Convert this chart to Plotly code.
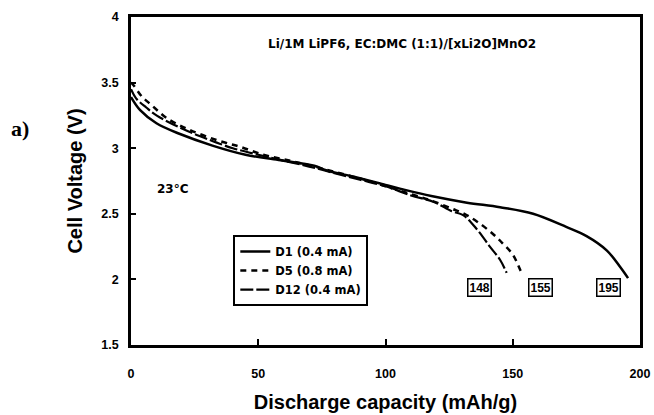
import plotly.graph_objects as go

# ---- data ----
d1_cap = [0, 3.6, 10, 19, 32, 45, 58, 72, 77, 88, 100, 106, 118, 132, 145, 158, 171, 179, 187, 192, 195.3]
d1_v   = [3.39, 3.29, 3.19, 3.11, 3.02, 2.95, 2.91, 2.866, 2.83, 2.78, 2.72, 2.69, 2.635, 2.585, 2.55, 2.50, 2.40, 2.33, 2.22, 2.10, 2.01]

d5_cap = [0, 1, 4, 8, 14, 23, 34, 43, 52, 60, 70, 80, 90, 100, 110, 118, 126, 131, 136, 142, 146, 150, 153, 154]
d5_v   = [3.50, 3.48, 3.40, 3.33, 3.23, 3.14, 3.06, 3.01, 2.95, 2.915, 2.87, 2.82, 2.77, 2.71, 2.65, 2.60, 2.54, 2.50, 2.44, 2.35, 2.275, 2.19, 2.07, 2.03]

d12_cap = [0, 2, 6, 10, 20, 30, 40, 50, 60, 70, 80, 90, 100, 110, 119, 126, 130.5, 136, 141, 145, 147.6]
d12_v   = [3.45, 3.38, 3.31, 3.25, 3.15, 3.07, 3.00, 2.95, 2.905, 2.86, 2.81, 2.76, 2.71, 2.64, 2.59, 2.52, 2.49, 2.38, 2.25, 2.15, 2.05]

series_names = ["D1 (0.4 mA)", "D5 (0.8 mA)", "D12 (0.4 mA)"]
end_labels = ["148", "155", "195"]
end_label_x = [137, 161, 187.7]
end_label_y = [1.94, 1.94, 1.94]

x_range = [0, 200]
y_range = [1.5, 4]
x_ticks = [0, 50, 100, 150, 200]
x_tick_text = ["0", "50", "100", "150", "200"]
y_ticks = [1.5, 2, 2.5, 3, 3.5, 4]
y_tick_text = ["1.5", "2", "2.5", "3", "3.5", "4"]

FONT = "Liberation Sans, Arial, sans-serif"
WIDE = "DejaVu Sans, Verdana, sans-serif"

def bold(s):
    return "<b>" + s + "</b>"

fig = go.Figure()
fig.add_trace(go.Scatter(x=d1_cap, y=d1_v, mode="lines", name=bold(series_names[0]),
                         line=dict(color="black", width=2.5, shape="spline")))
fig.add_trace(go.Scatter(x=d5_cap, y=d5_v, mode="lines", name=bold(series_names[1]),
                         line=dict(color="black", width=2.5, dash="6px,5px", shape="spline")))
fig.add_trace(go.Scatter(x=d12_cap, y=d12_v, mode="lines", name=bold(series_names[2]),
                         line=dict(color="black", width=2.2, dash="13px,3px", shape="spline")))
# empty trace on the overlay axes that carry the inside tick marks
fig.add_trace(go.Scatter(x=[None], y=[None], xaxis="x2", yaxis="y2", showlegend=False, hoverinfo="skip"))

for t, xv, yv in zip(end_labels, end_label_x, end_label_y):
    fig.add_annotation(x=xv, y=yv, text=bold(t), showarrow=False,
                       font=dict(family=FONT, size=12, color="black"),
                       bordercolor="black", borderwidth=1.5, borderpad=1, bgcolor="white")

fig.add_annotation(x=106.5, y=3.797, text=bold("Li/1M LiPF6, EC:DMC (1:1)/[xLi2O]MnO2"), showarrow=False,
                   font=dict(family=WIDE, size=12, color="black"))
fig.add_annotation(x=16.6, y=2.69, text=bold("23°C"), showarrow=False,
                   font=dict(family=WIDE, size=12, color="black"))
fig.add_annotation(xref="paper", yref="paper", x=-0.218, y=0.66, text=bold("a)"), showarrow=False,
                   xanchor="center", yanchor="middle",
                   font=dict(family="Liberation Serif, Times New Roman, serif", size=22, color="black"))

fig.update_layout(
    width=654, height=415,
    margin=dict(l=131, r=14, t=17, b=70),
    paper_bgcolor="white", plot_bgcolor="white",
    showlegend=True,
    legend=dict(x=0.201, y=0.335, xanchor="left", yanchor="top",
                bordercolor="black", borderwidth=2, bgcolor="white",
                font=dict(family=WIDE, size=11.5, color="black"),
                tracegroupgap=0, itemwidth=30),
    font=dict(family=FONT, color="black"),
    xaxis=dict(range=x_range, tickvals=x_ticks, ticktext=[bold(t) for t in x_tick_text],
               showgrid=False, zeroline=False, showline=True, linecolor="black", linewidth=2.5, mirror=True,
               ticks="outside", ticklen=15, tickwidth=1, tickcolor="rgba(0,0,0,0)",
               tickfont=dict(family=FONT, size=12.5, color="black"), automargin=False,
               title=dict(text=bold("Discharge capacity (mAh/g)"), standoff=16,
                          font=dict(family=FONT, size=20, color="black"))),
    yaxis=dict(range=y_range, tickvals=y_ticks, ticktext=[bold(t) for t in y_tick_text],
               showgrid=False, zeroline=False, showline=True, linecolor="black", linewidth=2.5, mirror=True,
               ticks="outside", ticklen=7, tickwidth=1, tickcolor="rgba(0,0,0,0)",
               tickfont=dict(family=FONT, size=12.5, color="black"), automargin=False,
               title=dict(text=bold("Cell Voltage (V)"), standoff=14,
                          font=dict(family=FONT, size=20, color="black"))),
    xaxis2=dict(range=x_range, tickvals=x_ticks[1:-1], overlaying="x", anchor="y2", side="bottom",
                showticklabels=False, showgrid=False, zeroline=False, showline=False,
                ticks="inside", ticklen=6, tickwidth=2, tickcolor="black"),
    yaxis2=dict(range=y_range, tickvals=y_ticks[1:-1], overlaying="y", anchor="x2", side="left",
                showticklabels=False, showgrid=False, zeroline=False, showline=False,
                ticks="inside", ticklen=5, tickwidth=2, tickcolor="black"),
)

fig.write_html("out.html", config={"displayModeBar": False},
               post_script="document.body.style.margin='0';document.body.style.padding='0';")
